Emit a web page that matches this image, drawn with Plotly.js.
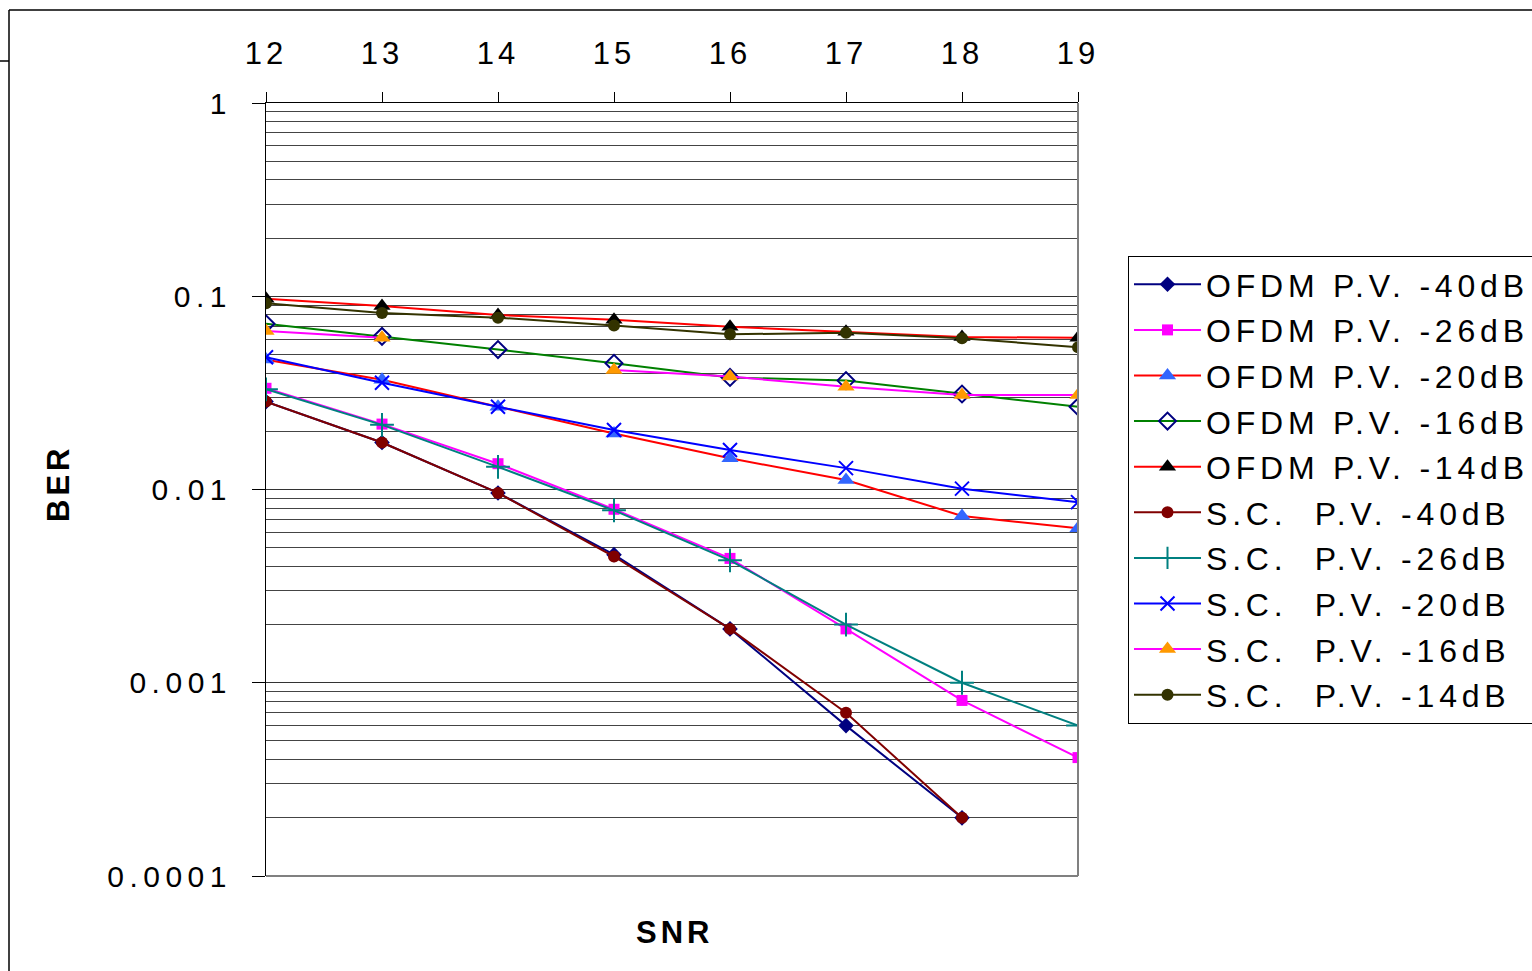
<!DOCTYPE html>
<html>
<head>
<meta charset="utf-8">
<script src="https://cdn.plot.ly/plotly-3.0.1.min.js"></script>
<style>
  html, body { margin: 0; padding: 0; background: #fff; }
  #chart { width: 1532px; height: 971px; }
  .xtick text { letter-spacing: 4px; }
  .ytick text { letter-spacing: 5.5px; }
  .legendtext { letter-spacing: 4.8px; }
  .annotation-text { letter-spacing: 4px; }
</style>
</head>
<body>
<div id="chart"></div>
<script>
// ---- data ----
const snr = [12, 13, 14, 15, 16, 17, 18, 19];

const ofdm40 = [0.0285, 0.0175, 0.0096, 0.0046, 0.0019, 0.0006, 0.0002, null];
const ofdm26 = [0.0334, 0.0218, 0.0136, 0.0079, 0.0044, 0.0019, 0.00081, 0.00041];
const ofdm20 = [0.047, 0.037, 0.0268, 0.0195, 0.0145, 0.0112, 0.0073, 0.0063];
const ofdm16 = [0.072, 0.062, 0.053, 0.045, 0.038, 0.0366, 0.0312, 0.0268];
const ofdm14 = [0.097, 0.089, 0.080, 0.0755, 0.0695, 0.0655, 0.0615, 0.061];
const sc40   = [0.0285, 0.0175, 0.0096, 0.0045, 0.0019, 0.0007, 0.0002, null];
const sc26   = [0.033, 0.0216, 0.0131, 0.0078, 0.0043, 0.002, 0.001, 0.0006];
const sc20   = [0.0483, 0.0357, 0.0268, 0.0203, 0.016, 0.0129, 0.0101, 0.0086];
const sc16   = [0.066, 0.061, null, 0.0415, 0.0384, 0.034, 0.0308, 0.0308];
const sc14   = [0.092, 0.082, 0.0775, 0.0705, 0.0635, 0.0648, 0.0606, 0.0545];

const seriesNames = [
  'OFDM P.V. -40dB', 'OFDM P.V. -26dB', 'OFDM P.V. -20dB', 'OFDM P.V. -16dB', 'OFDM P.V. -14dB',
  'S.C.  P.V. -40dB', 'S.C.  P.V. -26dB', 'S.C.  P.V. -20dB', 'S.C.  P.V. -16dB', 'S.C.  P.V. -14dB'
];
const seriesValues = [ofdm40, ofdm26, ofdm20, ofdm16, ofdm14, sc40, sc26, sc20, sc16, sc14];

// ---- styles ----
const styles = [
  {line: '#000080', marker: {symbol: 'diamond', color: '#000080', size: 12}},
  {line: '#FF00FF', marker: {symbol: 'square', color: '#FF00FF', size: 11}},
  {line: '#FF0000', marker: {symbol: 'triangle-up', color: '#3366FF', size: 15}},
  {line: '#008000', marker: {symbol: 'diamond-open', color: '#000080', size: 13, line: {width: 2, color: '#000080'}}},
  {line: '#FF0000', marker: {symbol: 'triangle-up', color: '#000000', size: 15}},
  {line: '#800000', marker: {symbol: 'circle', color: '#800000', size: 12}},
  {line: '#008080', marker: {symbol: 'cross-thin-open', color: '#008080', size: 17, line: {width: 2, color: '#008080'}}},
  {line: '#0000FF', marker: {symbol: 'x-thin-open', color: '#0000FF', size: 14, line: {width: 2, color: '#0000FF'}}},
  {line: '#FF00FF', marker: {symbol: 'triangle-up', color: '#FF9900', size: 15}},
  {line: '#333300', marker: {symbol: 'circle', color: '#333300', size: 12}}
];

const traces = seriesValues.map((vals, i) => ({
  type: 'scatter',
  mode: 'lines+markers',
  x: snr,
  y: vals,
  name: seriesNames[i],
  legendgroup: 'g' + i,
  connectgaps: false,
  line: {color: styles[i].line, width: 2},
  marker: styles[i].marker
}));

const L = 266, R = 1078, T = 103, B = 876, W = 1532, H = 971;
const px = v => (v - L) / (R - L);
const py = v => (B - v) / (B - T);

const layout = {
  width: W, height: H,
  margin: {l: L, r: W - R, t: T, b: H - B, autoexpand: false},
  paper_bgcolor: '#ffffff',
  plot_bgcolor: '#ffffff',
  font: {family: 'Liberation Sans, Arial, sans-serif', color: '#000', size: 30},
  showlegend: true,
  legend: {
    x: px(1128), y: py(256), xanchor: 'left', yanchor: 'top',
    bgcolor: '#ffffff', bordercolor: '#000', borderwidth: 1,
    font: {size: 32, color: '#000'},
    traceorder: 'grouped', tracegroupgap: 1,
    itemwidth: 67
  },
  xaxis: {
    type: 'linear', range: [12, 19], side: 'top',
    tickmode: 'array', tickvals: snr, ticktext: snr.map(String),
    showgrid: false, zeroline: false,
    showline: true, linecolor: '#000', linewidth: 1,
    ticks: 'outside', ticklen: 10, tickcolor: '#000', tickwidth: 1,
    ticklabelstandoff: 16,
    tickfont: {size: 31, color: '#000'}
  },
  yaxis: {
    type: 'log', range: [-4, 0],
    tickmode: 'array', tickvals: [0.0001, 0.001, 0.01, 0.1, 1],
    ticktext: ['0.0001', '0.001', '0.01', '0.1', '1'],
    showgrid: true, gridcolor: '#333', gridwidth: 1,
    minor: {dtick: 'D1', showgrid: true, gridcolor: '#444', gridwidth: 1, ticks: ''},
    zeroline: false,
    showline: true, linecolor: '#000', linewidth: 1,
    ticks: 'outside', ticklen: 13, tickcolor: '#000', tickwidth: 1,
    ticklabelstandoff: 14,
    tickfont: {size: 30, color: '#000'}
  },
  annotations: [
    {text: '<b>SNR</b>', xref: 'paper', yref: 'paper', x: px(674), y: py(932),
     xanchor: 'center', yanchor: 'middle', showarrow: false, font: {size: 31, color: '#000'}},
    {text: '<b>BER</b>', xref: 'paper', yref: 'paper', x: px(58), y: py(483),
     xanchor: 'center', yanchor: 'middle', textangle: -90, showarrow: false, font: {size: 31, color: '#000'}}
  ],
  shapes: [
    {type: 'line', xref: 'paper', yref: 'paper', x0: 0, x1: 1, y0: 0, y1: 0, line: {color: '#808080', width: 2}},
    {type: 'line', xref: 'paper', yref: 'paper', x0: 1, x1: 1, y0: 0, y1: 1, line: {color: '#808080', width: 2}},
    {type: 'line', xref: 'paper', yref: 'paper', x0: px(9), x1: px(W), y0: py(10), y1: py(10), line: {color: '#000', width: 1.5}},
    {type: 'line', xref: 'paper', yref: 'paper', x0: px(9), x1: px(9), y0: py(10), y1: py(H), line: {color: '#000', width: 1.5}},
    {type: 'line', xref: 'paper', yref: 'paper', x0: px(0), x1: px(9), y0: py(61), y1: py(61), line: {color: '#000', width: 1.5}}
  ]
};

Plotly.newPlot('chart', traces, layout, {displayModeBar: false, staticPlot: true});
</script>
</body>
</html>
